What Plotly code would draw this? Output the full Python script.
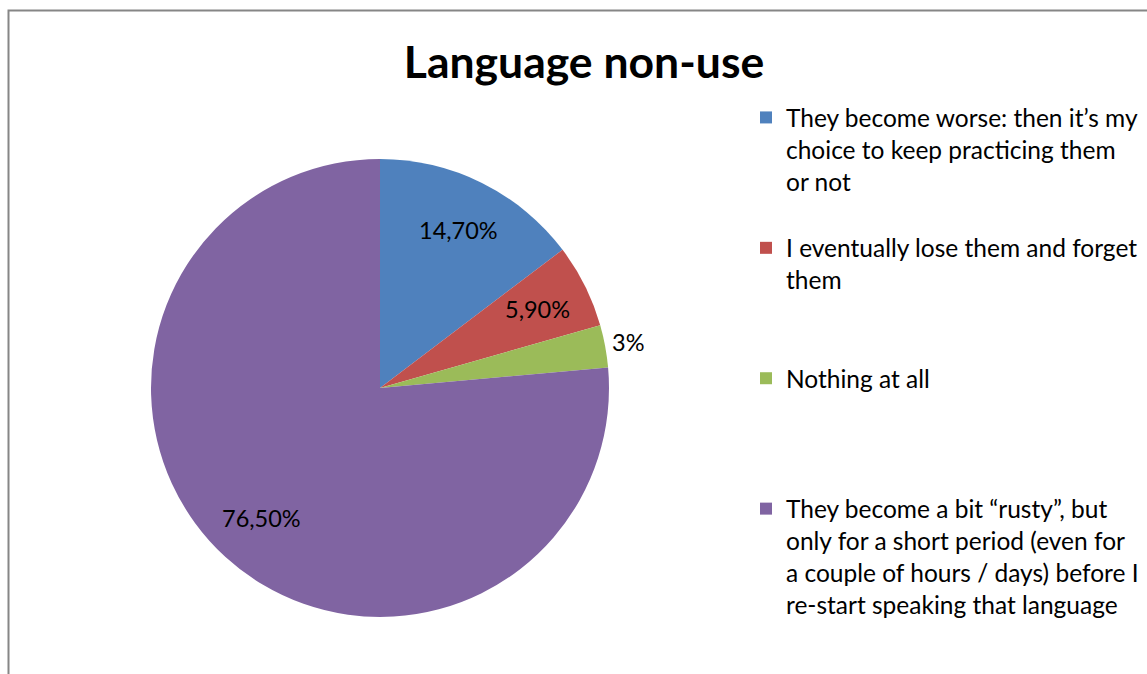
import math
import plotly.graph_objects as go

# Survey answers and their shares (percent)
answers = [
    "They become worse: then it’s my<br>choice to keep practicing them<br>or not",
    "I eventually lose them and forget<br>them",
    "Nothing at all",
    "They become a bit “rusty”, but<br>only for a short period (even for<br>a couple of hours / days) before I<br>re-start speaking that language",
]
shares = [14.7, 5.9, 3.0, 76.5]
share_labels = ["14,70%", "5,90%", "3%", "76,50%"]
slice_colors = ["#4F81BD", "#C0504D", "#9BBB59", "#8064A2"]

W, H = 1147, 674
FONT = "Lato"

# pie geometry in pixels
cx, cy, R = 380, 388, 229

# pad every legend entry to the same number of lines so the entries are evenly spaced
ENTRY_LINES = 4
legend_names = []
for a in answers:
    n = a.count("<br>") + 1
    legend_names.append(a + "<br> " * (ENTRY_LINES - n))

fig = go.Figure(
    go.Pie(
        labels=legend_names,
        values=shares,
        sort=False,
        direction="clockwise",
        rotation=0,
        marker=dict(colors=slice_colors, line=dict(width=0)),
        textinfo="none",
        hoverinfo="label+percent",
        domain=dict(
            x=[(cx - R) / W, (cx + R) / W],
            y=[(H - cy - R) / H, (H - cy + R) / H],
        ),
    )
)

# data labels placed along each slice's mid angle
annotations = []
total = sum(shares)
cum = 0.0
for v, lab in zip(shares, share_labels):
    mid = (cum + v / 2) / total * 2 * math.pi
    cum += v
    frac = 1.1 if v < 4 else 0.77
    px = cx + frac * R * math.sin(mid)
    py = cy - frac * R * math.cos(mid)
    annotations.append(
        dict(
            x=px / W, y=1 - py / H, xref="paper", yref="paper",
            text=lab, showarrow=False,
            font=dict(family=FONT, size=23.5, color="#000000"),
            xanchor="center", yanchor="middle",
        )
    )

fig.update_layout(
    width=W,
    height=H,
    margin=dict(l=0, r=0, t=0, b=0),
    paper_bgcolor="#FFFFFF",
    plot_bgcolor="#FFFFFF",
    title=dict(
        text="<b>Language non-use</b>",
        font=dict(family=FONT, size=44.5, color="#000000"),
        x=584 / W, xanchor="center",
        y=1 - 62 / H, yanchor="middle", yref="container",
    ),
    showlegend=True,
    legend=dict(
        x=746 / W, xanchor="left",
        y=1 - 95 / H, yanchor="top",
        valign="top",
        font=dict(family=FONT, size=24.5, color="#000000"),
        bgcolor="rgba(0,0,0,0)",
        itemclick=False,
        itemdoubleclick=False,
    ),
    annotations=annotations,
    shapes=[
        dict(
            type="rect", xref="paper", yref="paper",
            x0=8.5 / W, x1=1.05, y0=-0.05, y1=1 - 10.5 / H,
            line=dict(color="#868686", width=2),
            fillcolor="rgba(0,0,0,0)",
            layer="below",
        )
    ],
)

fig.write_html("out.html")
